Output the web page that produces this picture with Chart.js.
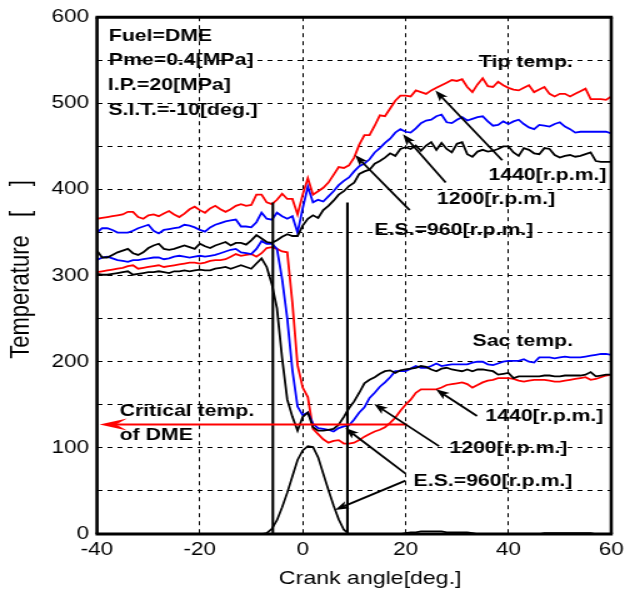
<!DOCTYPE html>
<html>
<head>
<meta charset="utf-8">
<script src="https://cdn.jsdelivr.net/npm/chart.js@4"></script>
<style>
html,body{margin:0;padding:0;background:#fff;}
</style>
</head>
<body>
<canvas id="c" width="504" height="594" style="display:block;width:630px;height:594px;"></canvas>
<script>
// Crank angle [deg.]
const angles = [-40,-39,-38,-37,-36,-35,-34,-33,-32,-31,-30,-29,-28,-27,-26,-25,-24,-23,-22,-21,
-20,-19,-18,-17,-16,-15,-14,-13,-12,-11,-10,-9,-8,-7,-6,-5,-4,-3,-2,-1,
0,1,2,3,4,5,6,7,8,9,10,11,12,13,14,15,16,17,18,19,20,21,22,23,24,25,26,27,28,29,
30,31,32,33,34,35,36,37,38,39,40,41,42,43,44,45,46,47,48,49,50,51,52,53,54,55,56,57,58,59,60];

// Tip temperature
const tip1440 = [366,367,368,369,370,371,374,374,368,366, 370,371,369,372,375,371,368,372,377,380,
376,373,378,381,377,374,377,381,383,381, 382,394,394,385,383,388,395,389,389,371,
394,413,394,398,402,408,417,426,425,428, 437,452,463,463,474,486,485,494,503,509,
509,508,515,513,511,515,518,521,524,527, 526,528,519,513,522,529,520,519,525,521,
518,516,515,518,521,513,516,519,511,508, 511,511,508,511,514,517,505,505,505,504, 508];
const tip1200 = [350,355,355,353,350,350,350,352,355,357, 359,352,349,353,354,355,356,359,358,356,
353,351,356,359,361,363,364,365,357,357, 356,362,373,366,365,373,369,366,369,350,
378,403,385,388,386,392,398,405,410,414, 421,427,430,435,443,448,454,459,466,470,
467,466,471,477,480,481,485,487,478,477, 481,484,480,482,484,485,479,474,475,479,
476,479,481,476,472,470,475,474,473,476, 478,473,470,466,467,467,467,467,467,467, 465];
const tip960 = [329,321,321,324,327,329,331,326,324,327, 332,335,337,331,330,331,333,335,333,331,
337,334,332,335,337,339,335,338,338,336, 341,347,343,339,338,341,345,348,346,346,
358,366,370,367,376,381,387,394,398,404, 408,418,421,423,430,433,437,442,439,447,
449,447,451,445,451,455,446,454,447,443, 453,455,441,438,444,446,444,445,447,450,
450,443,439,448,446,442,441,448,447,440, 437,439,440,438,439,441,443,433,432,432, 432];

// Sac temperature
const sac1440 = [304,305,306,307,308,309,311,312,308,309, 310,311,312,310,311,312,313,314,315,315,
314,315,317,318,318,319,322,325,323,324, 325,322,326,332,333,331,328,327,268,196,
170,159,122,116,110,106,108,109,105,105, 106,109,113,116,119,121,124,129,135,143,
150,156,164,168,168,168,168,170,173,174, 175,176,174,170,173,176,178,179,181,181,
181,180,178,177,178,179,179,179,178,177, 177,178,179,180,181,182,179,180,182,184, 185];
const sac1200 = [318,321,322,320,318,317,316,318,318,319, 320,321,321,319,320,322,323,322,321,322,
323,322,323,324,326,328,330,331,327,326, 325,331,340,337,337,331,296,250,190,148,
138,141,128,123,122,121,119,123,125,126, 133,141,147,158,164,171,176,182,189,189,
189,192,195,193,193,195,198,195,196,197, 197,197,197,199,200,200,197,196,198,200,
201,201,201,203,200,199,205,205,205,204, 205,206,205,205,205,206,207,208,209,209, 208];
const sac960 = [302,301,301,302,303,304,305,301,302,303, 304,304,305,304,303,305,305,306,305,306,
307,306,306,308,309,310,308,310,312,310, 308,314,320,310,290,262,204,156,136,120,
136,141,124,120,120,121,122,127,136,146, 154,164,175,179,182,186,189,190,187,190,
191,192,193,195,194,191,189,192,193,191, 190,189,191,189,191,191,190,189,185,186,
187,181,183,183,183,183,183,184,184,183, 183,184,184,184,184,185,188,183,184,185, 185];

// Needle lift trace (E.S.=960)
const needle960 = [0,0,0,0,0,0,0,0,0,0, 0,0,0,0,0,0,0,0,0,0,
0,0,0,0,0,0,0,0,0,0, 0,0,0,1,6,16,31,48,67,86,
97,102,101,89,70,51,33,17,5,0, 0,0,0,0,0,0,0,0,0,0,
1,2,2,3,3,3,3,3,2,2, 2,2,2,1,0,0,0,0,0,0,
0,0,0,0,0,0,0,1,1,1, 1,1,1,1,1,1,1,0,0,0, 0];

// Vertical marker lines
const markerAngles = [-5.8, 8.7];
const markerTop = 385;
const criticalTemp = 127;

// Tick labels
const xTicks = [-40,-20,0,20,40,60];
const yTicks = [0,100,200,300,400,500,600];

const pts = arr => angles.map((a,i)=>({x:a, y:arr[i]}));

const RED='#ff0000', BLUE='#0000ff', BLACK='#000000';
const lw = 1.8;
function ds(data,color,w){return {data:data,borderColor:color,borderWidth:w||lw,pointRadius:0,tension:0,fill:false};}

const datasets = [
  ds(pts(needle960),BLACK,1.7),
  ds([{x:markerAngles[0],y:0},{x:markerAngles[0],y:markerTop}],BLACK,2.1),
  ds([{x:markerAngles[1],y:0},{x:markerAngles[1],y:markerTop}],BLACK,2.1),
  ds(pts(tip960),BLACK),
  ds(pts(tip1200),BLUE),
  ds(pts(tip1440),RED),
  ds(pts(sac960),BLACK),
  ds(pts(sac1200),BLUE),
  ds(pts(sac1440),RED)
];

const FONT = '"Liberation Sans", Arial, sans-serif';

const notes = [
  {t:'Fuel=DME', x:-37.7, y:578, a:'left'},
  {t:'Pme=0.4[MPa]', x:-37.7, y:550, a:'left'},
  {t:'I.P.=20[MPa]', x:-37.9, y:521, a:'left'},
  {t:'S.I.T.=-10[deg.]', x:-37.8, y:492, a:'left'},
  {t:'Tip temp.', x:43.4, y:548},
  {t:'1440[r.p.m.]', x:47.6, y:417},
  {t:'1200[r.p.m.]', x:37.6, y:388},
  {t:'E.S.=960[r.p.m.]', x:29.4, y:353},
  {t:'Sac temp.', x:42.8, y:224},
  {t:'1440[r.p.m.]', x:47, y:137},
  {t:'1200[r.p.m.]', x:40, y:100},
  {t:'E.S.=960[r.p.m.]', x:37, y:61},
  {t:'Critical temp.', x:-35.6, y:143, a:'left'},
  {t:'of DME', x:-35.6, y:114, a:'left'}
];
const arrows = [
  [38.8,434, 25.8,515],
  [27.8,408, 19.5,464],
  [20.8,376, 10.2,440],
  [33.9,137, 25.9,168],
  [26.5,102, 13.9,151],
  [20.0,70, 8.3,123],
  [20.0,62, 6.3,28]
];

function arrow(ctx,x1,y1,x2,y2,color,len,half,notch,w){
  const ang=Math.atan2(y2-y1,x2-x1), c=Math.cos(ang), s=Math.sin(ang);
  const bx=x2-c*len*notch, by=y2-s*len*notch;
  ctx.strokeStyle=color; ctx.fillStyle=color; ctx.lineWidth=w;
  ctx.beginPath(); ctx.moveTo(x1,y1); ctx.lineTo(bx,by); ctx.stroke();
  const cx=x2-c*len, cy=y2-s*len, px=-s, py=c;
  ctx.beginPath(); ctx.moveTo(x2,y2); ctx.lineTo(cx+px*half,cy+py*half); ctx.lineTo(bx,by);
  ctx.lineTo(cx-px*half,cy-py*half); ctx.closePath(); ctx.fill();
}

const annot = {
  id:'annot',
  afterDatasetsDraw(chart){
    const {ctx, chartArea:a} = chart;
    const sx=chart.scales.x, sy=chart.scales.y;
    const X=v=>sx.getPixelForValue(v), Y=v=>sy.getPixelForValue(v);
    ctx.save();
    arrow(ctx, X(20.3), Y(criticalTemp), X(-39.5), Y(criticalTemp), RED, 22, 6, 0.6, 2);
    for(const r of arrows) arrow(ctx, X(r[0]),Y(r[1]),X(r[2]),Y(r[3]), BLACK, 11, 4, 0.75, 1.8);
    ctx.font='bold 17px '+FONT; ctx.fillStyle=BLACK; ctx.textBaseline='middle';
    for(const n of notes){ ctx.textAlign=n.a||'center'; ctx.fillText(n.t, X(n.x), Y(n.y)); }
    ctx.strokeStyle=BLACK;
    ctx.lineWidth=3;
    ctx.beginPath(); ctx.moveTo(a.left-1.2,a.top); ctx.lineTo(a.right+1.2,a.top);
    ctx.moveTo(a.left-1.2,a.bottom); ctx.lineTo(a.right+1.2,a.bottom); ctx.stroke();
    ctx.lineWidth=2.6;
    ctx.beginPath(); ctx.moveTo(a.left,a.top); ctx.lineTo(a.left,a.bottom);
    ctx.moveTo(a.right,a.top); ctx.lineTo(a.right,a.bottom); ctx.stroke();
    ctx.restore();
  }
};

new Chart(document.getElementById('c'), {
  type:'line',
  data:{datasets:datasets},
  options:{
    responsive:false, animation:false, devicePixelRatio:1,
    layout:{padding:{left:0,right:12,top:13,bottom:0}},
    plugins:{legend:{display:false}, tooltip:{enabled:false}},
    scales:{
      x:{type:'linear', min:-40, max:60,
        afterFit(s){s.height=60;},
        afterBuildTicks(s){s.ticks = xTicks.map(v=>({value:v}));},
        ticks:{stepSize:20, padding:5, color:BLACK, font:{family:FONT,size:18}},
        grid:{color:BLACK, lineWidth:1, drawTicks:false},
        border:{display:false, dash:[4,4]},
        title:{display:true, text:'     Crank angle[deg.]', color:BLACK, font:{family:FONT,size:18.5}, padding:{top:0,bottom:4}}
      },
      y:{min:0, max:600,
        afterFit(s){s.width=77.6;},
        afterBuildTicks(s){const t=[]; for(let i=0;i<yTicks.length;i++){t.push({value:yTicks[i]}); if(i<yTicks.length-1) t.push({value:(yTicks[i]+yTicks[i+1])/2});} s.ticks=t;},
        ticks:{padding:6.4, color:BLACK, font:{family:FONT,size:18}, callback:v=>yTicks.includes(v)?String(v):''},
        grid:{color:BLACK, lineWidth:1, drawTicks:false},
        border:{display:false, dash:[4,4]},
        title:{display:true, text:'  Temperature   [    ]', color:BLACK, font:{family:FONT,size:22}, padding:{top:4,bottom:0}}
      }
    }
  },
  plugins:[annot]
});
</script>
</body>
</html>
